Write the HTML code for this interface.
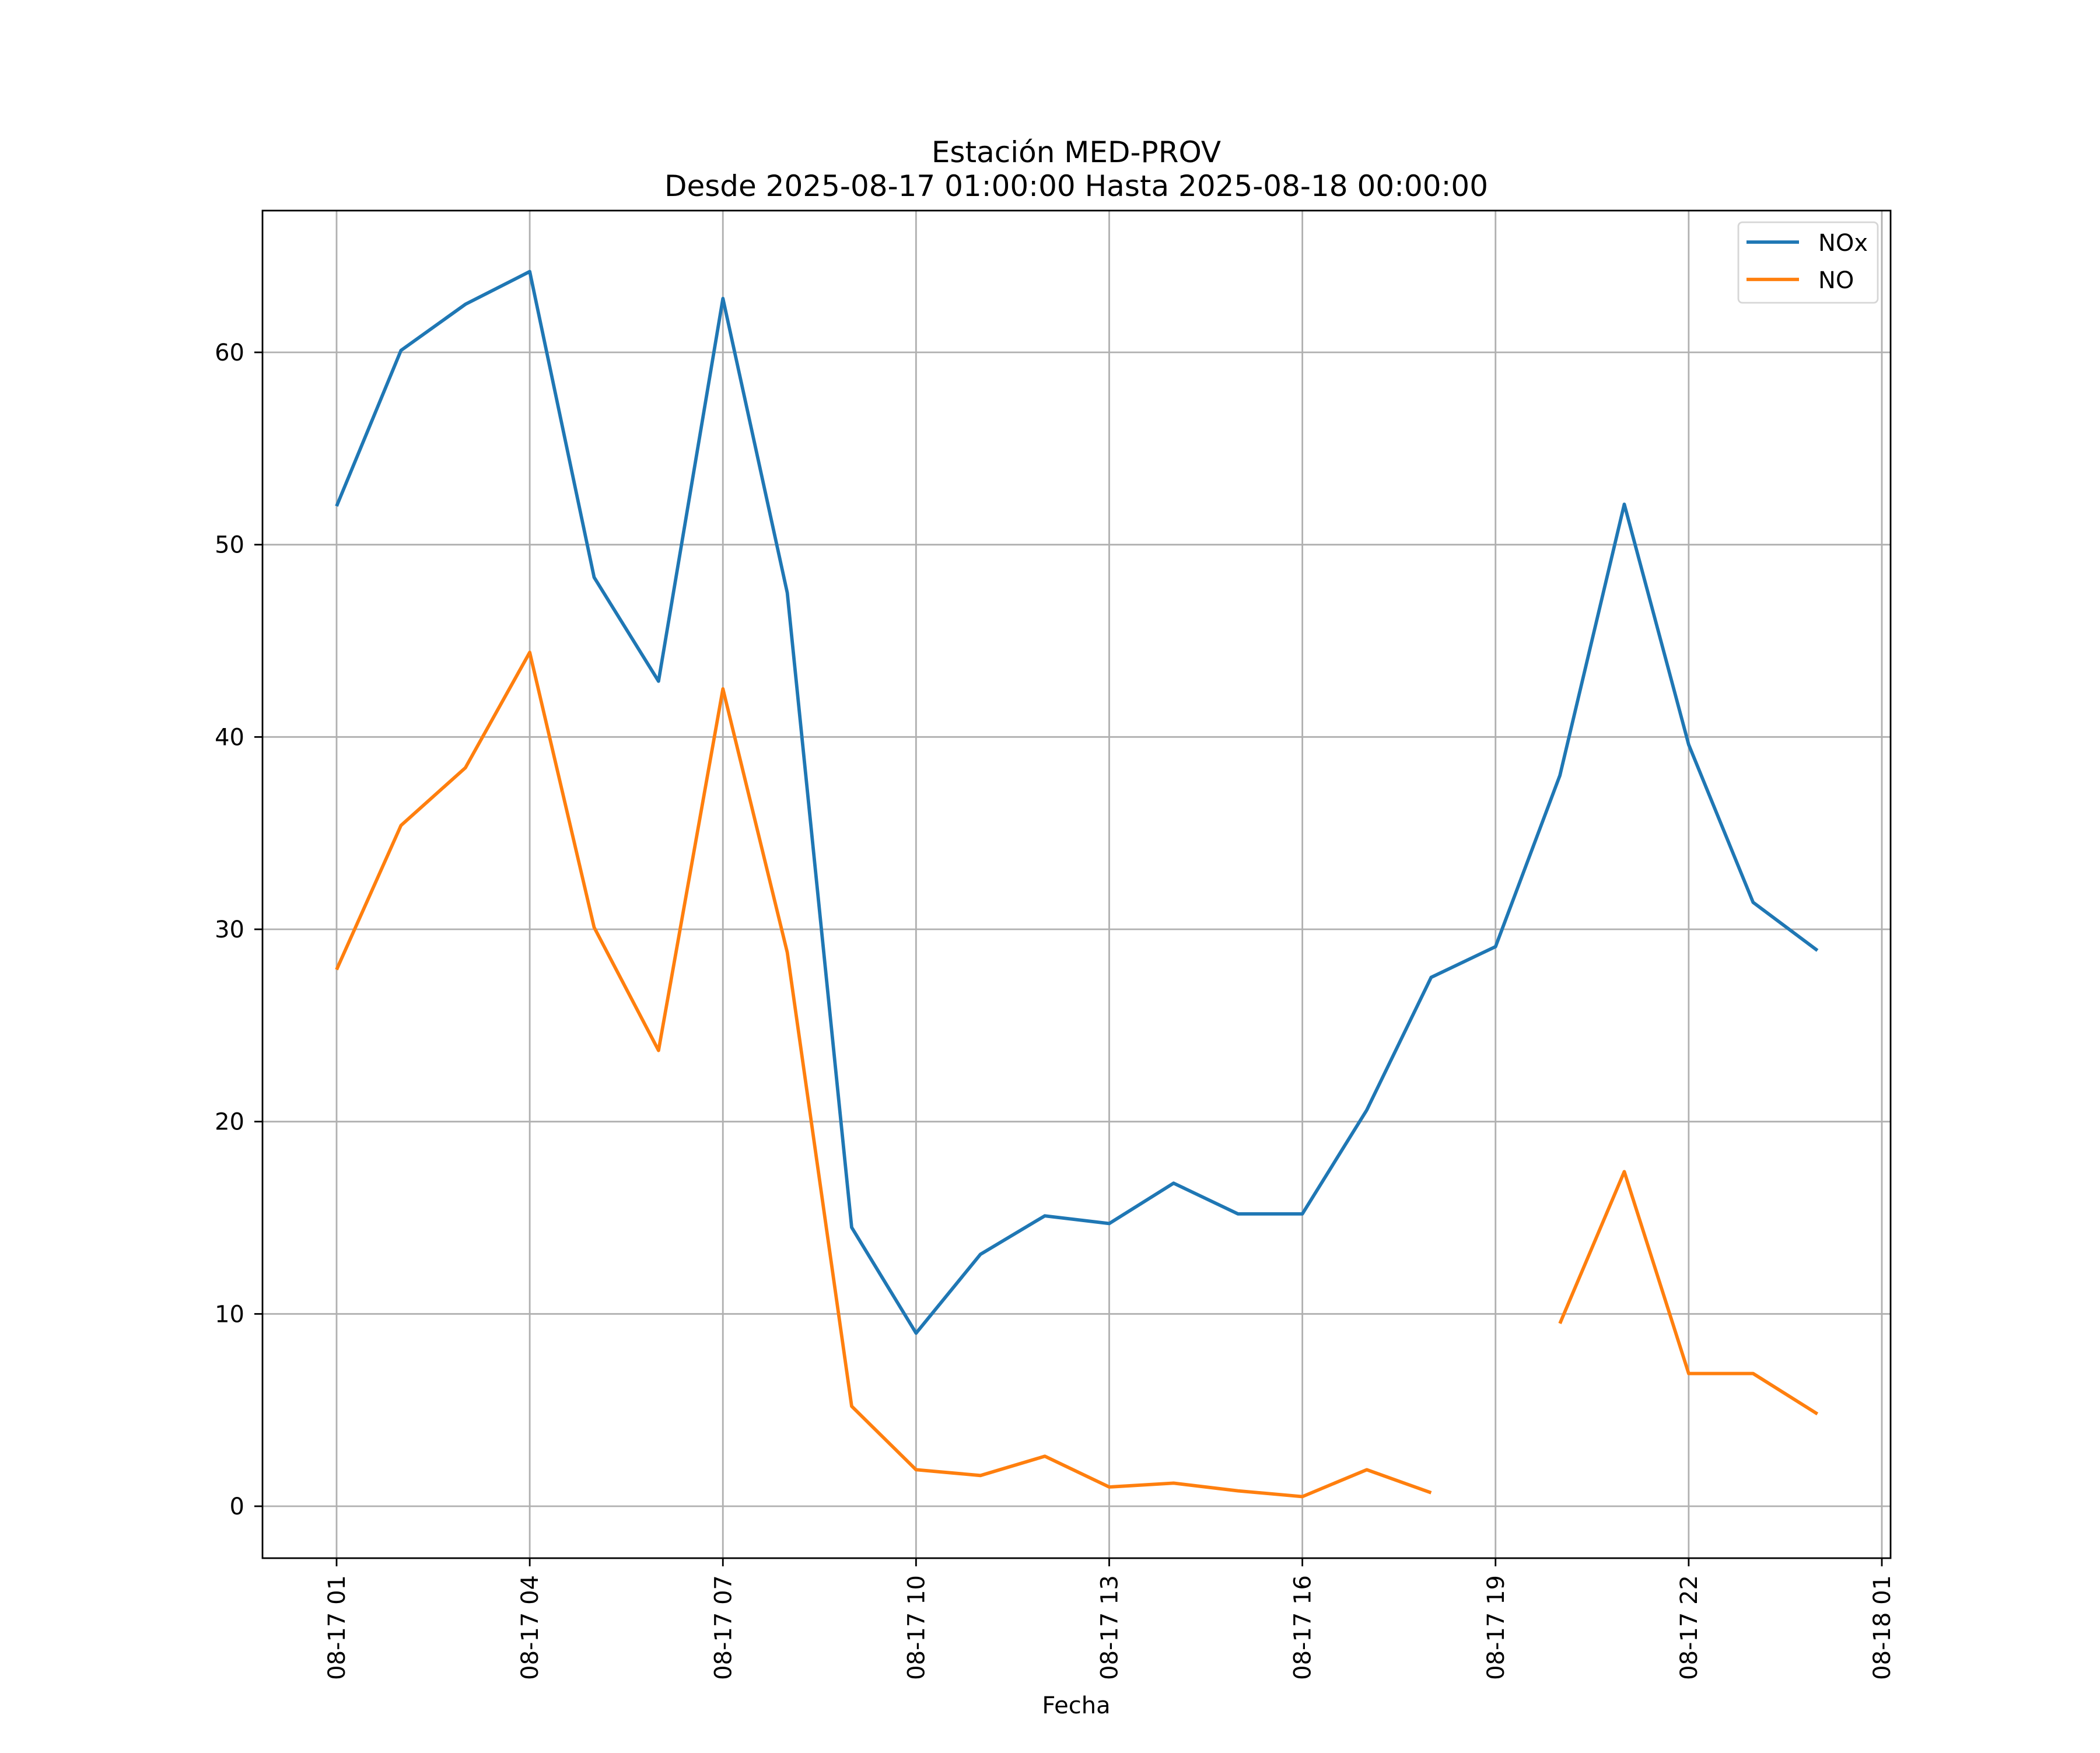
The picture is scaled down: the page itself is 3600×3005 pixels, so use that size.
<!DOCTYPE html>
<html><head><meta charset="utf-8"><style>
html,body{margin:0;padding:0;background:#fff;}
svg text{font-family:"DejaVu Sans","Liberation Sans",sans-serif;fill:#000;}
</style></head><body>
<svg id="chart" width="3600" height="3000" viewBox="0 0 3600 3000" xmlns="http://www.w3.org/2000/svg">
<rect width="3600" height="3000" fill="#fff"/>
<g id="grid"></g>
<g id="series"></g>
<rect x="450" y="361" width="2791" height="2310" fill="none" stroke="#000" stroke-width="2.8"/>
<g id="axes"></g>
<text x="1845" y="278" text-anchor="middle" font-size="50">Estación MED-PROV</text>
<text x="1845" y="336" text-anchor="middle" font-size="50">Desde 2025-08-17 01:00:00 Hasta 2025-08-18 00:00:00</text>
<text x="1845" y="2937" text-anchor="middle" font-size="40">Fecha</text>
<g>
<rect x="2980" y="381" width="239" height="138" rx="7" fill="#fff" fill-opacity="0.8" stroke="#d6d6d6" stroke-width="2.8"/>
<line x1="2994" y1="415" x2="3084" y2="415" stroke="#1f77b4" stroke-width="5.8"/>
<text x="3117" y="430" font-size="40">NOx</text>
<line x1="2994" y1="479" x2="3084" y2="479" stroke="#ff7f0e" stroke-width="5.8"/>
<text x="3117" y="494" font-size="40">NO</text>
</g>
</svg>
<script>
const hours = [1,2,3,4,5,6,7,8,9,10,11,12,13,14,15,16,17,18,19,20,21,22,23,24];
const noxValues = [52.0,60.1,62.5,64.2,48.3,42.9,62.8,47.5,14.5,9.0,13.1,15.1,14.7,16.8,15.2,15.2,20.6,27.5,29.1,38.0,52.1,39.6,31.4,28.9];
const noValues = [27.9,35.4,38.4,44.4,30.1,23.7,42.5,28.8,5.2,1.9,1.6,2.6,1.0,1.2,0.8,0.5,1.9,0.7,null,9.5,17.4,6.9,6.9,4.8];
const yTicks = [0,10,20,30,40,50,60];
const xTickHours = [1,4,7,10,13,16,19,22,25];
const xTickLabels = ["08-17 01","08-17 04","08-17 07","08-17 10","08-17 13","08-17 16","08-17 19","08-17 22","08-18 01"];

const NS = "http://www.w3.org/2000/svg";
const X = h => 577 + (h - 1) * (3226 - 577) / 24;
const Y = v => 2582 - v * (2582 - 604) / 60;
function mk(tag, attrs, parent){const e=document.createElementNS(NS,tag);for(const k in attrs)e.setAttribute(k,attrs[k]);parent.appendChild(e);return e;}
const grid=document.getElementById('grid'), axes=document.getElementById('axes'), series=document.getElementById('series');

yTicks.forEach(v=>{
  const y=Y(v);
  const g=mk('line',{x1:450,x2:3241,y1:y,y2:y,stroke:'#b0b0b0','stroke-width':2.8},grid);
  
  
  const t=mk('line',{x1:436,x2:450,y1:y,y2:y,stroke:'#000','stroke-width':2.8},axes);
  
  
  const l=mk('text',{x:419,y:y+14,'text-anchor':'end','font-size':40},axes);
  l.textContent=v;
  
  
});
xTickHours.forEach((h,i)=>{
  const x=X(h);
  const g=mk('line',{x1:x,x2:x,y1:361,y2:2671,stroke:'#b0b0b0','stroke-width':2.8},grid);
  
  
  const t=mk('line',{x1:x,x2:x,y1:2671,y2:2685,stroke:'#000','stroke-width':2.8},axes);
  
  
  const l=mk('text',{x:0,y:0,'text-anchor':'end','font-size':40,transform:`translate(${x+14},2700) rotate(-90)`},axes);
  l.textContent=xTickLabels[i];
  
  
});
function drawSeries(vals,color,name){
  let segs=[],cur=[];
  vals.forEach((v,i)=>{if(v===null){if(cur.length)segs.push(cur);cur=[];}else cur.push(X(hours[i]).toFixed(1)+','+Y(v).toFixed(1));});
  if(cur.length)segs.push(cur);
  segs.forEach(s=>{
    const p=mk('polyline',{points:s.join(' '),fill:'none',stroke:color,'stroke-width':5.8,'stroke-linejoin':'round'},series);
    
    
  });
}
drawSeries(noxValues,'#1f77b4','nox-line');
drawSeries(noValues,'#ff7f0e','no-line');
</script>
</body></html>
